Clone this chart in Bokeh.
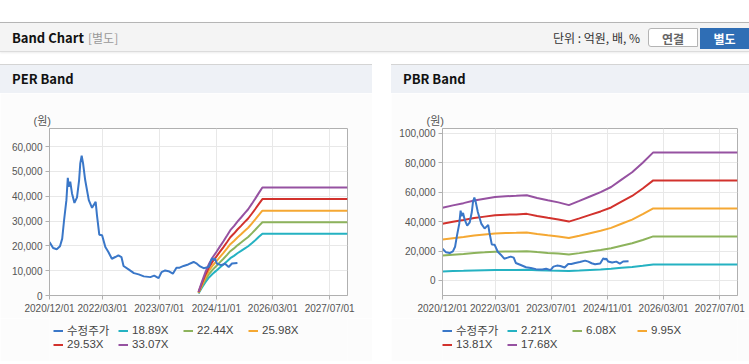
import pandas as pd
from bokeh.plotting import figure
from bokeh.models import (Div, FixedTicker, DatetimeTickFormatter, NumeralTickFormatter,
                          Legend, LegendItem, Range1d, Spacer)
from bokeh.layouts import column, row
from bokeh.embed import file_html
from bokeh.resources import INLINE

# ---------------- data ----------------
price_dates = ["2020-12-01", "2021-01-01", "2021-02-01", "2021-03-01", "2021-03-20", "2021-04-05",
               "2021-04-25", "2021-05-07", "2021-05-15", "2021-05-28", "2021-06-12", "2021-07-03",
               "2021-07-25", "2021-08-12", "2021-08-22", "2021-09-03", "2021-09-15", "2021-10-03",
               "2021-11-03", "2021-12-01", "2021-12-15", "2022-01-01", "2022-01-12", "2022-02-01",
               "2022-02-25", "2022-03-25", "2022-04-20", "2022-05-20", "2022-06-18", "2022-07-15",
               "2022-08-10", "2022-08-28", "2022-10-10", "2022-11-25", "2023-01-05", "2023-02-18",
               "2023-04-15", "2023-05-18", "2023-06-25", "2023-07-20", "2023-08-20", "2023-09-18",
               "2023-10-25", "2023-11-25", "2023-12-22", "2024-01-25", "2024-03-05", "2024-04-20",
               "2024-05-18", "2024-06-15", "2024-07-15", "2024-08-28", "2024-09-25", "2024-10-10",
               "2024-10-20", "2024-11-05", "2024-12-10", "2025-01-15", "2025-02-15", "2025-03-15",
               "2025-05-01"]
price_values = [21500, 19100, 18600, 19800, 22900, 30300,
                38400, 47400, 43800, 45800, 41100, 37300,
                39500, 46500, 53200, 56300, 53200, 46500,
                38400, 35300, 36400, 37700, 32400, 24500,
                24300, 19500, 17500, 14800, 15500, 16200,
                15500, 11900, 10500, 9000, 8500, 7700,
                7400, 8000, 7000, 9400, 10100, 9800,
                8800, 11200, 11200, 11900, 12500, 13500,
                12800, 11700, 11000, 11500, 15100, 14200,
                15000, 12900, 12200, 12800, 11500, 12900,
                13100]

eps_dates = ["2024-06-01", "2024-07-01", "2024-08-01", "2024-09-01", "2024-10-01", "2024-11-01",
             "2024-12-01", "2025-01-01", "2025-02-01", "2025-03-01", "2025-04-01", "2025-05-01",
             "2025-06-01", "2025-07-01", "2025-08-01", "2025-09-01", "2025-10-01", "2025-11-01",
             "2025-12-01", "2027-12-01"]
eps_values = [45, 170, 290, 390, 465, 530,
              595, 660, 730, 795, 845, 900,
              950, 1000, 1050, 1115, 1180, 1250,
              1315, 1315]
per_multiples = [18.89, 22.44, 25.98, 29.53, 33.07]

bps_dates = ["2020-12-01", "2021-03-01", "2021-06-01", "2021-09-01", "2021-12-01", "2022-03-01",
             "2022-06-01", "2022-09-01", "2022-12-01", "2023-03-01", "2023-06-01", "2023-09-01",
             "2023-12-01", "2024-03-01", "2024-06-01", "2024-09-01", "2024-12-01", "2025-03-01",
             "2025-06-01", "2025-09-01", "2025-12-01", "2027-12-01"]
bps_values = [2790, 2885, 2970, 3070, 3140, 3210,
              3235, 3250, 3275, 3170, 3080, 3000,
              2895, 3055, 3225, 3395, 3590, 3875,
              4155, 4525, 4920, 4920]
pbr_multiples = [2.21, 6.08, 9.95, 13.81, 17.68]

price_label = "수정주가"
price_color = "#3a77c8"
band_colors = ["#25b2c2", "#8db35c", "#f5a833", "#d2322d", "#9652a1"]

x_tick_labels = ["2020/12/01", "2022/03/01", "2023/07/01", "2024/11/01", "2026/03/01", "2027/07/01"]
x_range_dates = ["2020-12-01", "2027-12-01"]
per_y_ticks = [0, 10000, 20000, 30000, 40000, 50000, 60000]
per_y_range = [0, 67250]
pbr_y_ticks = [0, 20000, 40000, 60000, 80000, 100000]
pbr_y_range = [-10200, 103200]

# ---------------- helpers ----------------
def ms(s):
    return pd.Timestamp(s).timestamp() * 1000.0

FONT = "Liberation Sans, Noto Sans CJK KR"
TXT = "#555555"
GRID = "#e8e8e8"
AXC = "#b0b0b0"
BODY = "#fcfcfc"
CHART_H = 225   # panel body part holding the plot (y 93..318)
LEG_H = 43      # panel body part holding the legend (y 318..361)


def add_series(p, band_dates, band_base, mults):
    bx = pd.to_datetime(band_dates)
    band_rs = []
    for m, c in zip(mults, band_colors):
        band_rs.append(p.line(bx, [v * m for v in band_base], line_color=c, line_width=2))
    pr = p.line(pd.to_datetime(price_dates), price_values, line_color=price_color, line_width=2)
    return pr, band_rs


def build(width, bl, br, y_rng, y_ticks, band_dates, band_base, mults):
    p = figure(width=width, height=CHART_H, output_backend="svg", toolbar_location=None,
               x_axis_type="datetime",
               x_range=Range1d(ms(x_range_dates[0]), ms(x_range_dates[1])),
               y_range=Range1d(y_rng[0], y_rng[1]),
               min_border_left=bl, min_border_right=br, min_border_top=35, min_border_bottom=23,
               background_fill_color="#ffffff", border_fill_color=BODY,
               outline_line_color=AXC)
    add_series(p, band_dates, band_base, mults)

    p.xaxis.ticker = FixedTicker(ticks=[ms(t) for t in x_tick_labels])
    fmt = "%Y/%m/%d"
    p.xaxis.formatter = DatetimeTickFormatter(milliseconds=fmt, seconds=fmt, minsec=fmt, minutes=fmt,
                                              hourmin=fmt, hours=fmt, days=fmt, months=fmt, years=fmt)
    p.yaxis.ticker = FixedTicker(ticks=y_ticks)
    p.yaxis.formatter = NumeralTickFormatter(format="0,0")
    for ax in (p.xaxis, p.yaxis):
        ax.axis_line_color = AXC
        ax.major_tick_line_color = AXC
        ax.major_tick_in = 0
        ax.major_tick_out = 4
        ax.minor_tick_line_color = None
        ax.major_label_text_font = FONT
        ax.major_label_text_font_size = "10px"
        ax.major_label_text_color = TXT
        ax.major_label_standoff = 3
    p.xgrid.grid_line_color = GRID
    p.ygrid.grid_line_color = GRID

    # unit label above the value axis
    p.title.text = "(원)"
    p.title.align = "left"
    p.title.offset = -16
    p.title.standoff = 4
    p.title.text_font = FONT
    p.title.text_font_size = "11px"
    p.title.text_font_style = "normal"
    p.title.text_color = TXT
    return p


def legend_fig(width, band_dates, band_base, mults, lx):
    # the legend strip under each chart; its series lie outside this strip's view
    q = figure(width=width, height=LEG_H, output_backend="svg", toolbar_location=None,
               x_axis_location=None, y_axis_location=None,
               x_range=Range1d(0, 1), y_range=Range1d(0, 1),
               min_border=0, min_border_left=0, min_border_right=0, min_border_top=0,
               min_border_bottom=0, outline_line_color=None,
               background_fill_color=BODY, border_fill_color=BODY)
    q.grid.visible = False
    pr, band_rs = add_series(q, band_dates, band_base, mults)
    items = [LegendItem(label=price_label, renderers=[pr])]
    for m, r in zip(mults, band_rs):
        items.append(LegendItem(label=f"{m:.2f}X", renderers=[r]))
    leg = Legend(items=items, orientation="horizontal", ncols=4, location=(lx, 11),
                 glyph_width=10, glyph_height=11, label_height=11, label_width=51,
                 label_standoff=4, spacing=0, padding=0, margin=0,
                 border_line_color=None, background_fill_alpha=0,
                 label_text_font=FONT, label_text_font_size="11.5px", label_text_color="#444444")
    q.add_layout(leg, "center")
    return q


per_fig = build(372, 49, 25, per_y_range, per_y_ticks, eps_dates, eps_values, per_multiples)
pbr_fig = build(358, 51, 12, pbr_y_range, pbr_y_ticks, bps_dates, bps_values, pbr_multiples)
per_leg = legend_fig(372, eps_dates, eps_values, per_multiples, 4)
pbr_leg = legend_fig(358, bps_dates, bps_values, pbr_multiples, 0)

HF = "font-family:'Noto Sans CJK KR','Noto Sans',sans-serif;"
header_html = f"""
<div style="position:relative;width:749px;height:64px;background:#fff;{HF}">
 <div style="position:absolute;left:0;top:22px;width:749px;height:30px;background:#f4f4f4;border-top:1px solid #b5b5b5;border-bottom:1px solid #dcdcdc;box-shadow:0 1px 2px rgba(0,0,0,0.08);"></div>
 <span style="position:absolute;left:12px;top:28px;font-size:13px;font-weight:bold;color:#111;line-height:20px;">Band Chart</span>
 <span style="position:absolute;left:88px;top:29px;font-size:12px;color:#999;line-height:18px;">[별도]</span>
 <span style="position:absolute;left:553px;top:29px;font-size:12px;color:#333;line-height:18px;">단위 : 억원, 배, %</span>
 <div style="position:absolute;left:648px;top:28px;width:50px;height:19px;background:#fff;border:1px solid #b4b4b4;border-radius:3px 0 0 3px;font-size:12px;font-weight:bold;color:#666;text-align:center;line-height:19px;">연결</div>
 <div style="position:absolute;left:700px;top:28px;width:49px;height:21px;background:#2f6eb5;font-size:12px;font-weight:bold;color:#fff;text-align:center;line-height:21px;">별도</div>
</div>
"""


def panel_head(text, w):
    return Div(text=f"""<div style="width:{w}px;height:28px;background:#eef1f6;border-top:1px solid #d4d4d4;
    {HF}font-size:13px;font-weight:bold;color:#111;line-height:28px;padding-left:12px;box-sizing:content-box;">{text}</div>""",
               width=w + 12, height=29, styles={"margin": "0"})


def bottom_line(w):
    return Div(text=f'<div style="width:{w}px;height:1px;background:#d8d8d8;"></div>', width=w, height=1,
               styles={"margin": "0"})


header = Div(text=header_html, width=749, height=64, styles={"margin": "0"})
left = column(panel_head("PER Band", 360), per_fig, per_leg, bottom_line(372), spacing=0)
right = column(panel_head("PBR Band", 346), pbr_fig, pbr_leg, bottom_line(358), spacing=0)
root = column(header, row(left, Spacer(width=19), right, spacing=0), spacing=0)

open("out.html", "w").write(file_html(root, INLINE))
